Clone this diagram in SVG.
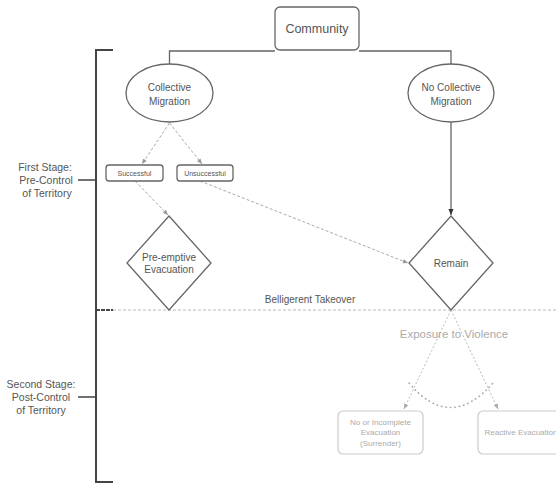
<svg xmlns="http://www.w3.org/2000/svg" width="556" height="483" viewBox="0 0 556 483">
<defs>
<style>
text{font-family:"Liberation Sans",Arial,sans-serif;text-anchor:middle}
.node{fill:#fff;stroke:#666;stroke-width:1.3}
.t{font-size:10px;fill:#555}
.small{font-size:7px;fill:#555}
.lbl{font-size:10.5px;fill:#555}
.solid{fill:none;stroke:#666;stroke-width:1.3}
.dash{fill:none;stroke:#aaa;stroke-width:1;stroke-dasharray:3 2}
.faint{fill:none;stroke:#bbb;stroke-width:1;stroke-dasharray:2 2}
.fnode{fill:#fff;stroke:#ccc;stroke-width:1.2}
.ft{font-size:8px;fill:#aaa}
.br{stroke:#444;stroke-width:2;fill:none}
</style>
<marker id="ad" viewBox="0 0 8 8" refX="7" refY="4" markerWidth="6" markerHeight="6" orient="auto" markerUnits="userSpaceOnUse">
<path d="M0,1 L7,4 L0,7 z" fill="#999"/>
</marker>
<marker id="af" viewBox="0 0 8 8" refX="7" refY="4" markerWidth="7" markerHeight="7" orient="auto" markerUnits="userSpaceOnUse">
<path d="M0,1 L7,4 L0,7 z" fill="#333"/>
</marker>
<marker id="al" viewBox="0 0 8 8" refX="7" refY="4" markerWidth="6" markerHeight="6" orient="auto" markerUnits="userSpaceOnUse">
<path d="M0,1 L7,4 L0,7 z" fill="#aaa"/>
</marker>
</defs>
<rect width="556" height="483" fill="#fff"/>

<g id="stages">
<path class="br" d="M113,50 H96 V482 H113"/>
<path d="M96,310 H113" stroke="#444" stroke-width="2" stroke-dasharray="4 1"/>
<path d="M78,180 H96 M78,397 H96" stroke="#444" stroke-width="1.5"/>
<text class="lbl" x="45" y="171">First Stage:</text>
<text class="lbl" x="46" y="184">Pre-Control</text>
<text class="lbl" x="47" y="197">of Territory</text>
<text class="lbl" x="41" y="388">Second Stage:</text>
<text class="lbl" x="41" y="401">Post-Control</text>
<text class="lbl" x="41" y="414">of Territory</text>
</g>

<g id="connectors">
<path class="solid" d="M275,51 H169.5 V64"/>
<path class="solid" d="M359,51 H451 V64"/>
<path class="solid" d="M451,122 V215" marker-end="url(#af)"/>
<path class="dash" d="M169.5,123 L142,164" marker-end="url(#ad)"/>
<path class="dash" d="M169.5,123 L202,164" marker-end="url(#ad)"/>
<path class="dash" d="M135,181 L168,215" marker-end="url(#ad)"/>
<path class="dash" d="M200,181 L408,263" marker-end="url(#ad)"/>
<path d="M113,310 H556" stroke="#bbb" stroke-width="1" stroke-dasharray="3 2"/>
<path class="faint" d="M451,310 L404,409" marker-end="url(#al)"/>
<path class="faint" d="M451,310 L498,409" marker-end="url(#al)"/>
<path d="M409,383 Q450,432 493,383" fill="none" stroke="#aaa" stroke-width="1.6" stroke-dasharray="0.5 4" stroke-linecap="round"/>
</g>

<g id="community">
<rect class="node" x="275" y="7" width="84" height="43" rx="5"/>
<text x="317" y="33" style="font-size:12.5px;fill:#555">Community</text>
</g>
<g id="collective-migration">
<ellipse class="node" cx="169.5" cy="93" rx="43.5" ry="29"/>
<text class="t" x="169.5" y="91">Collective</text>
<text class="t" x="169.5" y="105">Migration</text>
</g>
<g id="no-collective-migration">
<ellipse class="node" cx="451" cy="93" rx="43" ry="29"/>
<text class="t" x="451" y="91">No Collective</text>
<text class="t" x="451" y="105">Migration</text>
</g>
<g id="successful">
<rect class="node" x="106" y="165" width="57" height="16" rx="3"/>
<text class="small" x="134.5" y="175.5">Successful</text>
</g>
<g id="unsuccessful">
<rect class="node" x="177" y="165" width="56" height="16" rx="3"/>
<text class="small" x="205" y="175.5">Unsuccessful</text>
</g>
<g id="pre-emptive-evacuation">
<path class="node" d="M169,216 L211,263 L169,310 L127,263 Z"/>
<text class="t" x="169" y="261">Pre-emptive</text>
<text class="t" x="169" y="273">Evacuation</text>
</g>
<g id="remain">
<path class="node" d="M451,216 L493,263 L451,310 L409,263 Z"/>
<text class="t" x="451" y="267">Remain</text>
</g>
<g id="belligerent-takeover">
<text class="t" x="310" y="303">Belligerent Takeover</text>
</g>
<g id="exposure">
<text x="454" y="338" style="font-size:11.5px;fill:#aaa">Exposure to Violence</text>
</g>
<g id="no-or-incomplete-evacuation">
<rect class="fnode" x="338" y="411" width="85" height="43" rx="5"/>
<text class="ft" x="380.5" y="425">No or Incomplete</text>
<text class="ft" x="380.5" y="435">Evacuation</text>
<text class="ft" x="380.5" y="446">(Surrender)</text>
</g>
<g id="reactive-evacuation">
<rect class="fnode" x="478" y="411" width="85" height="43" rx="5"/>
<text class="ft" x="521" y="435">Reactive Evacuation</text>
</g>
</svg>
